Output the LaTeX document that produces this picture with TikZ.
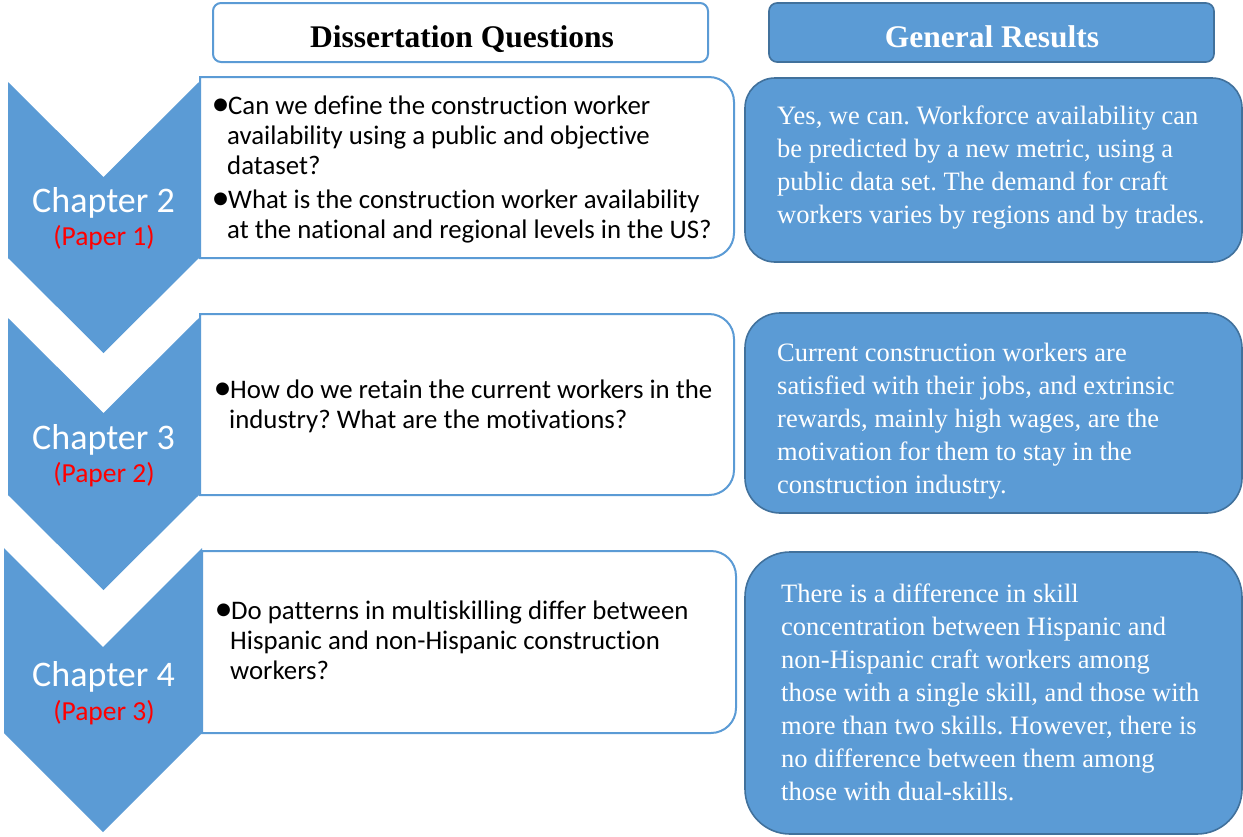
\documentclass[tikz,border=0pt]{standalone}
\usepackage{fontspec}
\setmainfont{Liberation Serif}
\newfontfamily\calib[Ligatures=NoCommon]{Carlito}
\definecolor{obl}{HTML}{5B9BD5}
\definecolor{obd}{HTML}{41719C}
\definecolor{pred}{HTML}{FF0000}
\newcommand{\bul}{\makebox[13pt][l]{\hspace*{-3.7pt}\raisebox{-1pt}{\scalebox{1.35}{•}}\hss}}
\newcommand{\ind}{\hspace*{12pt}}
\frenchspacing
\begin{document}
\begin{tikzpicture}[x=1pt,y=-1pt,
  chev/.style={fill=obl},
  qbox/.style={draw=obl,line width=2pt,fill=white},
  hdrq/.style={draw=obl,line width=2pt,fill=white,rounded corners=8pt,inner sep=0,
    minimum width=495pt,minimum height=59pt},
  hdrr/.style={draw=obd,line width=1.6pt,fill=obl,rounded corners=8pt,inner sep=0,
    minimum width=445pt,minimum height=59pt},
  htext/.style={anchor=base,inner sep=0,font=\bfseries\fontsize{31.5}{36}\selectfont},
  rbox/.style={draw=obd,line width=1.6pt,fill=obl,rounded corners=#1,inner sep=0,minimum width=497pt},
  chtext/.style={anchor=base,text=white,inner sep=0,font=\calib\fontsize{36}{40}\selectfont},
  ptext/.style={anchor=base,text=pred,inner sep=0,font=\calib\fontsize{27.5}{30}\selectfont},
  qtext/.style={anchor=north west,inner sep=0,align=left,font=\calib\fontsize{26.8}{30}\selectfont},
  rtext/.style={anchor=north west,inner sep=0,align=left,text=white,font=\fontsize{26.5}{33}\selectfont}]
\useasboundingbox (0,0) rectangle (1243,836);

% header boxes
\node[hdrq] (hq) at (460.5,32.5) {};
\node[hdrr] (hr) at (991.5,32.5) {};
\node[htext] (hqt) at (462,47.5) {Dissertation Questions};
\node[htext,text=white] (hrt) at (992,47.5) {General Results};

% question boxes (right corners rounded)
\draw[qbox] (200,258) -- (200,77) -- (600,77) [rounded corners=25pt] -- (734,77) -- (734,258) -- (600,258) [sharp corners] -- cycle;
\draw[qbox] (200,495) -- (200,314) -- (600,314) [rounded corners=25pt] -- (734,314) -- (734,495) -- (600,495) [sharp corners] -- cycle;
\draw[qbox] (202,733) -- (202,551) -- (600,551) [rounded corners=25pt] -- (736,551) -- (736,733) -- (600,733) [sharp corners] -- cycle;

% chevrons
\fill[chev] (8,82) -- (103.5,177) -- (199,82) -- (199,258) -- (103.5,353) -- (8,258) -- cycle;
\fill[chev] (8,318) -- (103.5,413) -- (199,318) -- (199,495) -- (103.5,590) -- (8,495) -- cycle;
\fill[chev] (4,548) -- (103,647) -- (202,548) -- (202,733) -- (103,832) -- (4,733) -- cycle;

\node[chtext] (c2) at (103.5,212) {Chapter 2};
\node[ptext] (p1) at (104,245) {(Paper 1)};
\node[chtext] (c3) at (103.5,449) {Chapter 3};
\node[ptext] (p2) at (104,482) {(Paper 2)};
\node[chtext] (c4) at (103.5,686) {Chapter 4};
\node[ptext] (p3) at (104,720) {(Paper 3)};

% question texts
\node[qtext] (q1) at (215,95.5) {\bul Can we define the construction worker\\
\ind availability using a public and objective\\
\ind dataset?\\[4pt]
\bul What is the construction worker availability\\
\ind at the national and regional levels in the US?};
\node[qtext] (q2) at (217,380) {\bul How do we retain the current workers in the\\
\ind industry? What are the motivations?};
\node[qtext] (q3) at (218,601) {\bul Do patterns in multiskilling differ between\\
\ind Hispanic and non-Hispanic construction\\
\ind workers?};

% result boxes
\node[rbox=30pt,minimum height=184pt] (r1) at (993.5,170) {};
\node[rbox=35pt,minimum height=200pt] (r2) at (993.5,413) {};
\node[rbox=45pt,minimum height=282pt] (r3) at (993.5,693) {};

\node[rtext] (t1) at (777,106) {Yes, we can. Workforce availability can\\
be predicted by a new metric, using a\\
public data set. The demand for craft\\
workers varies by regions and by trades.};
\node[rtext] (t2) at (777,343) {Current construction workers are\\
satisfied with their jobs, and extrinsic\\
rewards, mainly high wages, are the\\
motivation for them to stay in the\\
construction industry.};
\node[rtext] (t3) at (781,584) {There is a difference in skill\\
concentration between Hispanic and\\
non-Hispanic craft workers among\\
those with a single skill, and those with\\
more than two skills. However, there is\\
no difference between them among\\
those with dual-skills.};
\end{tikzpicture}
\end{document}
